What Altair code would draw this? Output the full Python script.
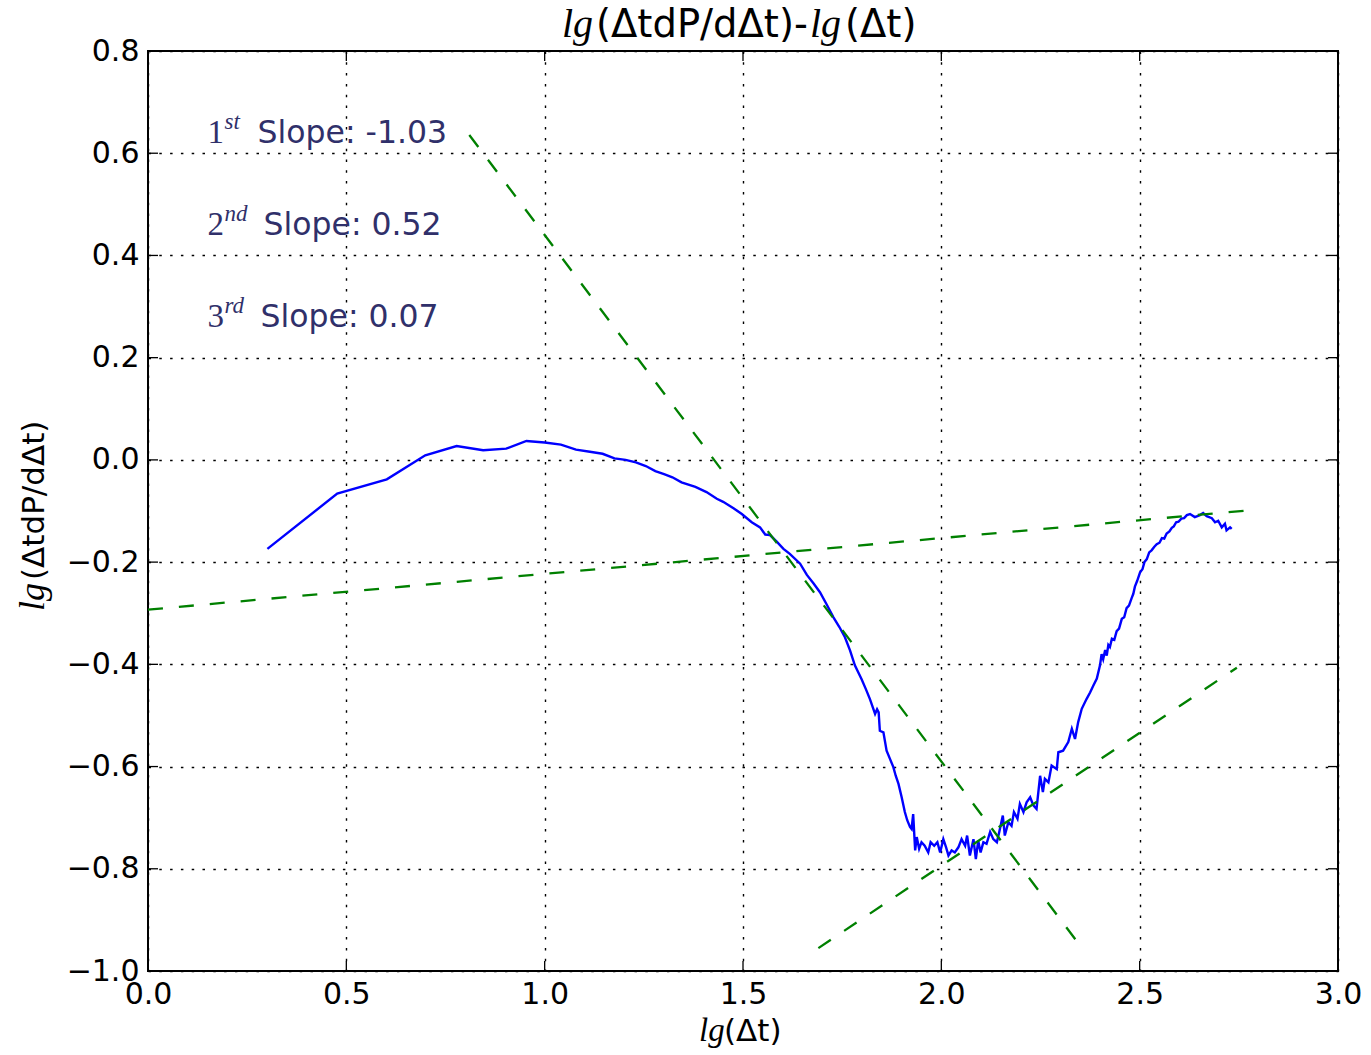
import altair as alt
import pandas as pd

# Pressure-derivative curve: lg(Δt) against lg(Δt·dP/dΔt)
lg_dt = [
    0.301, 0.477, 0.602, 0.699, 0.778, 0.845, 0.903, 0.954, 1.000, 1.041,
    1.079, 1.114, 1.146, 1.176, 1.204, 1.230, 1.255, 1.279, 1.301, 1.322,
    1.345, 1.380, 1.408, 1.434, 1.450, 1.477, 1.497, 1.522, 1.543, 1.556,
    1.568, 1.585, 1.602, 1.618, 1.644, 1.661, 1.678, 1.694, 1.711, 1.728,
    1.743, 1.757, 1.770, 1.782, 1.799, 1.810, 1.820, 1.833, 1.838, 1.842,
    1.845, 1.854, 1.862, 1.870, 1.879, 1.885, 1.892, 1.900, 1.908, 1.914,
    1.921, 1.925, 1.929, 1.934, 1.938, 1.944, 1.950, 1.958, 1.967, 1.973,
    1.982, 1.990, 1.997, 2.005, 2.012, 2.018, 2.026, 2.034, 2.043, 2.051,
    2.060, 2.065, 2.072, 2.081, 2.087, 2.093, 2.099, 2.106, 2.114, 2.123,
    2.131, 2.140, 2.146, 2.155, 2.160, 2.169, 2.177, 2.183, 2.192, 2.198,
    2.207, 2.215, 2.224, 2.232, 2.240, 2.249, 2.256, 2.261, 2.270, 2.278,
    2.291, 2.295, 2.307, 2.320, 2.329, 2.337, 2.345, 2.354, 2.366, 2.375,
    2.383, 2.392, 2.400, 2.404, 2.408, 2.413, 2.417, 2.421, 2.425, 2.430,
    2.436, 2.442, 2.448, 2.455, 2.461, 2.467, 2.473, 2.480, 2.484, 2.488,
    2.494, 2.501, 2.507, 2.512, 2.518, 2.524, 2.530, 2.537, 2.543, 2.550,
    2.556, 2.562, 2.568, 2.575, 2.581, 2.586, 2.592, 2.598, 2.605, 2.612,
    2.619, 2.627, 2.639, 2.652, 2.660, 2.669, 2.682, 2.690, 2.698, 2.707,
    2.715, 2.719, 2.728, 2.732,
]
lg_deriv = [
    -0.174, -0.066, -0.038, 0.009, 0.027, 0.019, 0.022, 0.037, 0.034, 0.030,
    0.020, 0.016, 0.012, 0.003, 0.000, -0.005, -0.012, -0.022, -0.028, -0.034,
    -0.044, -0.053, -0.063, -0.076, -0.082, -0.095, -0.106, -0.122, -0.132, -0.146,
    -0.147, -0.160, -0.174, -0.184, -0.203, -0.225, -0.242, -0.259, -0.283, -0.308,
    -0.327, -0.347, -0.373, -0.402, -0.429, -0.449, -0.468, -0.497, -0.488, -0.494,
    -0.530, -0.533, -0.569, -0.584, -0.601, -0.618, -0.634, -0.660, -0.689, -0.705,
    -0.718, -0.722, -0.693, -0.764, -0.738, -0.761, -0.748, -0.755, -0.768, -0.748,
    -0.755, -0.748, -0.768, -0.742, -0.758, -0.774, -0.764, -0.768, -0.758, -0.742,
    -0.755, -0.735, -0.774, -0.742, -0.781, -0.745, -0.768, -0.748, -0.751, -0.728,
    -0.742, -0.748, -0.728, -0.696, -0.735, -0.709, -0.716, -0.689, -0.702, -0.673,
    -0.689, -0.670, -0.660, -0.676, -0.683, -0.618, -0.650, -0.624, -0.631, -0.598,
    -0.605, -0.572, -0.569, -0.552, -0.526, -0.546, -0.513, -0.487, -0.468, -0.455,
    -0.442, -0.428, -0.402, -0.380, -0.390, -0.372, -0.383, -0.362, -0.366, -0.350,
    -0.352, -0.335, -0.330, -0.311, -0.308, -0.290, -0.285, -0.270, -0.262, -0.248,
    -0.236, -0.220, -0.214, -0.200, -0.194, -0.181, -0.177, -0.170, -0.165, -0.162,
    -0.153, -0.154, -0.144, -0.140, -0.133, -0.130, -0.122, -0.121, -0.115, -0.114,
    -0.108, -0.106, -0.112, -0.108, -0.104, -0.110, -0.114, -0.122, -0.119, -0.132,
    -0.125, -0.138, -0.132, -0.135,
]
assert len(lg_dt) == len(lg_deriv)

# Straight-line fits drawn over the curve
fit_names = ["1st", "2nd", "3rd"]
fit_slopes = [-1.03, 0.52, 0.07]
fit_intercepts = [1.47, -1.834, -0.293]
fit_x_from = [0.81, 1.69, 0.0]
fit_x_to = [2.34, 2.745, 2.77]

# Slope annotations (ordinal number, suffix, anchor in data units)
note_numbers = ["1", "2", "3"]
note_suffixes = ["st", "nd", "rd"]
note_x = [0.15, 0.15, 0.15]
note_y = [0.62, 0.44, 0.26]

x_ticks = [0.0, 0.5, 1.0, 1.5, 2.0, 2.5, 3.0]
y_ticks = [-1.0, -0.8, -0.6, -0.4, -0.2, 0.0, 0.2, 0.4, 0.6, 0.8]

W, H = 1190, 920
SANS = "DejaVu Sans"
SERIF = "Liberation Serif"
NAVY = "#30306a"

curve = pd.DataFrame({"x": lg_dt, "y": lg_deriv, "i": range(len(lg_dt))})

fit_rows = []
for name, m, b, x0, x1 in zip(fit_names, fit_slopes, fit_intercepts, fit_x_from, fit_x_to):
    fit_rows.append({"fit": name, "x": x0, "y": m * x0 + b})
    fit_rows.append({"fit": name, "x": x1, "y": m * x1 + b})
fits = pd.DataFrame(fit_rows)

xs = alt.Scale(domain=[0, 3], nice=False, zero=False)
ys = alt.Scale(domain=[-1.0, 0.8], nice=False, zero=False)

axis_style = dict(
    format=".1f", title=None, domain=False, ticks=False,
    labelFont=SANS, labelFontSize=30, labelColor="black",
    labelFlush=False, labelOverlap=False,
    grid=True, gridColor="black", gridDash=[2.5, 8.3], gridWidth=1.4,
)
x_axis = alt.Axis(values=x_ticks, labelPadding=8, **axis_style)
y_axis = alt.Axis(values=y_ticks, labelPadding=9, **axis_style)

base_curve = alt.Chart(curve).mark_line(color="#0000ff", strokeWidth=2.4).encode(
    x=alt.X("x:Q", scale=xs, axis=x_axis),
    y=alt.Y("y:Q", scale=ys, axis=y_axis),
    order="i:Q",
)

fit_lines = alt.Chart(fits).mark_line(
    color="#008000", strokeWidth=2.3, strokeDash=[15, 16]
).encode(
    x=alt.X("x:Q", scale=xs),
    y=alt.Y("y:Q", scale=ys),
    detail="fit:N",
)

# inward tick marks on all four sides of the frame
xt = pd.DataFrame({"v": x_ticks})
yt = pd.DataFrame({"v": y_ticks})
tick_len = 10
tick_style = dict(color="black", strokeWidth=1.3)
ticks_bottom = alt.Chart(xt).mark_rule(**tick_style).encode(
    x=alt.X("v:Q", scale=xs), y=alt.value(H), y2=alt.value(H - tick_len))
ticks_top = alt.Chart(xt).mark_rule(**tick_style).encode(
    x=alt.X("v:Q", scale=xs), y=alt.value(0), y2=alt.value(tick_len))
ticks_left = alt.Chart(yt).mark_rule(**tick_style).encode(
    y=alt.Y("v:Q", scale=ys), x=alt.value(0), x2=alt.value(tick_len))
ticks_right = alt.Chart(yt).mark_rule(**tick_style).encode(
    y=alt.Y("v:Q", scale=ys), x=alt.value(W), x2=alt.value(W - tick_len))

# slope annotations: serif ordinal, italic superscript, sans text
notes = []
suffix_gap = {"st": 50, "nd": 56, "rd": 53}
for num, suf, s, nx, ny in zip(note_numbers, note_suffixes, fit_slopes, note_x, note_y):
    row = pd.DataFrame({"x": [nx], "y": [ny], "num": [num], "suf": [suf],
                        "txt": [f"Slope: {s:.2f}"]})
    enc = dict(x=alt.X("x:Q", scale=xs), y=alt.Y("y:Q", scale=ys))
    notes.append(alt.Chart(row).mark_text(
        font=SERIF, fontSize=33, color=NAVY, align="left", baseline="alphabetic"
    ).encode(text="num:N", **enc))
    notes.append(alt.Chart(row).mark_text(
        font=SERIF, fontStyle="italic", fontSize=23, color=NAVY, align="left",
        baseline="alphabetic", dx=17, dy=-14
    ).encode(text="suf:N", **enc))
    notes.append(alt.Chart(row).mark_text(
        font=SANS, fontSize=31.5, color=NAVY, align="left", baseline="alphabetic",
        dx=suffix_gap[suf]
    ).encode(text="txt:N", **enc))

one = pd.DataFrame({"k": [0]})


def label(text, x, y, font, size, italic=False, angle=0):
    kw = dict(font=font, fontSize=size, color="black", align="left",
              baseline="alphabetic")
    if italic:
        kw["fontStyle"] = "italic"
    if angle:
        kw["angle"] = angle
    return alt.Chart(one).mark_text(**kw).encode(
        x=alt.value(x), y=alt.value(y), text=alt.value(text))


# chart title and axis titles with italic "lg"
title_parts = [
    label("lg", 414, -14, SERIF, 40, italic=True),
    label("(ΔtdP/dΔt)-", 448, -14, SANS, 38.5),
    label("lg", 662, -14, SERIF, 40, italic=True),
    label("(Δt)", 697, -14, SANS, 38.5),
]
xtitle_parts = [
    label("lg", 551, 990, SERIF, 33, italic=True),
    label("(Δt)", 576, 990, SANS, 31),
]
ytitle_parts = [
    label("lg", -104, 560, SERIF, 36, italic=True, angle=270),
    label("(ΔtdP/dΔt)", -104, 529, SANS, 31, angle=270),
]

chart = alt.layer(
    base_curve, fit_lines,
    ticks_bottom, ticks_top, ticks_left, ticks_right,
    *notes, *title_parts, *xtitle_parts, *ytitle_parts,
).properties(
    width=W, height=H,
    autosize=alt.AutoSizeParams(type="none"),
    padding={"left": 148, "top": 51, "right": 33, "bottom": 84},
    background="white",
).configure_view(
    stroke="black", strokeWidth=2,
)

chart.save("out.html", embed_options={"renderer": "svg", "actions": False})
